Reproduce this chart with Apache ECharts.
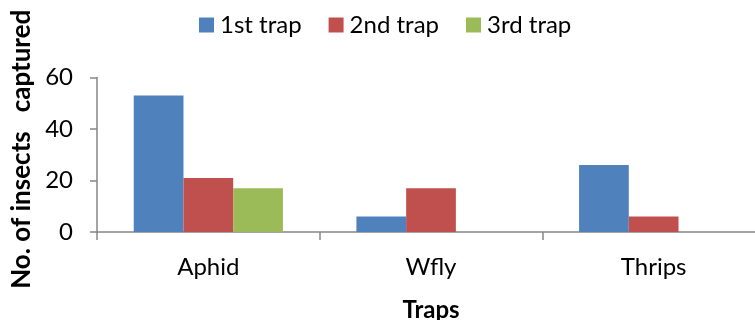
<!DOCTYPE html>
<html>
<head>
<meta charset="utf-8">
<script src="https://cdn.jsdelivr.net/npm/echarts@6/dist/echarts.min.js"></script>
<style>
html,body{margin:0;padding:0;background:#fff;}
#chart{width:755px;height:320px;}
</style>
</head>
<body>
<div id="chart"></div>
<script>
const categories = ['Aphid', 'Wfly', 'Thrips'];
const seriesNames = ['1st trap', '2nd trap', '3rd trap'];
const trap1 = [53, 6, 26];
const trap2 = [21, 17, 6];
const trap3 = [17, 0, 0];
const yTicks = [0, 20, 40, 60];
const colors = ['#4F81BD', '#C0504D', '#9BBB59'];

const FONT = 'Lato, "Open Sans", sans-serif';
const chart = echarts.init(document.getElementById('chart'), null, {renderer: 'canvas'});
const values = [trap1, trap2, trap3];

chart.setOption({
  animation: false,
  backgroundColor: '#ffffff',
  textStyle: {fontFamily: FONT},
  legend: {
    data: seriesNames,
    top: 8,
    left: 194,
    itemWidth: 15,
    itemHeight: 15,
    itemGap: 27,
    icon: 'rect',
    textStyle: {fontSize: 24, color: '#000', fontFamily: FONT, padding: [0, 0, 0, 1]}
  },
  grid: {left: 97, top: 77.5, width: 668, bottom: 88, containLabel: false, outerBoundsMode: 'none'},
  xAxis: {
    type: 'category',
    data: categories,
    name: 'Traps',
    nameLocation: 'middle',
    nameGap: 66,
    nameTextStyle: {fontSize: 24, fontWeight: 'bold', color: '#000', fontFamily: FONT},
    axisLine: {lineStyle: {color: '#868686', width: 1.5}},
    axisTick: {show: true, length: 8, lineStyle: {color: '#868686', width: 1.5}},
    axisLabel: {fontSize: 24, color: '#000', margin: 23, fontFamily: FONT},
    splitLine: {show: false}
  },
  yAxis: {
    type: 'value',
    min: yTicks[0],
    max: yTicks[yTicks.length - 1],
    interval: yTicks[1] - yTicks[0],
    name: 'No. of insects   captured',
    nameLocation: 'middle',
    nameGap: 60,
    nameRotate: 90,
    nameTextStyle: {fontSize: 26, fontWeight: 'bold', color: '#000', fontFamily: FONT, padding: [0, 0, 0, 11]},
    axisLine: {show: true, lineStyle: {color: '#868686', width: 1.5}},
    axisTick: {show: true, length: 7, lineStyle: {color: '#868686', width: 1.5}},
    axisLabel: {fontSize: 24, color: '#000', margin: 24, fontFamily: FONT},
    splitLine: {show: false}
  },
  series: seriesNames.map((n, i) => ({
    name: n,
    type: 'bar',
    data: values[i],
    barGap: '0%',
    barCategoryGap: '33%',
    itemStyle: {color: colors[i]}
  }))
});
</script>
</body>
</html>
